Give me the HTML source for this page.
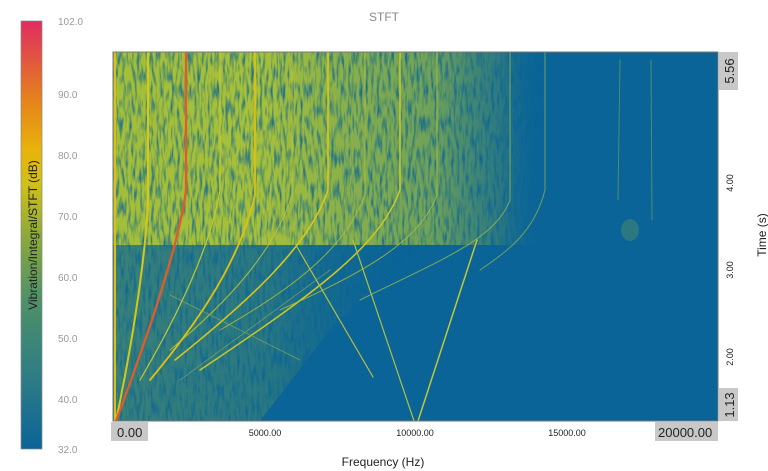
<!DOCTYPE html>
<html><head><style>
html,body{margin:0;padding:0;background:#fff;width:768px;height:471px;overflow:hidden}
text{font-family:"Liberation Sans",sans-serif}
</style></head><body>
<svg width="768" height="471" viewBox="0 0 768 471" xmlns="http://www.w3.org/2000/svg">
<defs>
<linearGradient id="cb" x1="0" y1="1" x2="0" y2="0">
<stop offset="0" stop-color="#0a6497"/>
<stop offset="0.15" stop-color="#2b7a88"/>
<stop offset="0.35" stop-color="#4f9168"/>
<stop offset="0.5" stop-color="#8caa3a"/>
<stop offset="0.62" stop-color="#d2c018"/>
<stop offset="0.7" stop-color="#e8b30a"/>
<stop offset="0.82" stop-color="#e5801e"/>
<stop offset="1" stop-color="#e02c60"/>
</linearGradient>
<linearGradient id="gx" x1="0" y1="0" x2="1" y2="0">
<stop offset="0" stop-color="#b4c830" stop-opacity="0.9"/>
<stop offset="0.35" stop-color="#b8ca30" stop-opacity="0.9"/>
<stop offset="0.55" stop-color="#a8c238" stop-opacity="0.8"/>
<stop offset="0.75" stop-color="#98ba40" stop-opacity="0.7"/>
<stop offset="0.9" stop-color="#6aa058" stop-opacity="0.35"/>
<stop offset="1" stop-color="#0a6497" stop-opacity="0"/>
</linearGradient>
<linearGradient id="gl" x1="0" y1="0" x2="1" y2="0">
<stop offset="0" stop-color="#80ac4a" stop-opacity="0.4"/>
<stop offset="0.5" stop-color="#70a450" stop-opacity="0.3"/>
<stop offset="1" stop-color="#0a6497" stop-opacity="0"/>
</linearGradient>
<filter id="nz" x="0" y="0" width="1" height="1" color-interpolation-filters="sRGB">
<feTurbulence type="fractalNoise" baseFrequency="0.35 0.06" numOctaves="2" seed="3"/>
<feColorMatrix values="0 0 0 0 0.04  0 0 0 0 0.39  0 0 0 0 0.59  0 0 0 2.6 -1.15"/>
</filter>
<clipPath id="pc"><rect x="113" y="52" width="605" height="369"/></clipPath>
<clipPath id="gc"><rect x="113" y="52" width="432" height="195"/><polygon points="113,245 420,245 330,330 260,421 113,421"/></clipPath>
</defs>

<text x="384" y="21" font-size="12" fill="#888" text-anchor="middle">STFT</text>

<rect x="21" y="21" width="21" height="428" fill="url(#cb)" stroke="#888" stroke-width="0.7"/>
<g font-size="10" fill="#999">
<text x="58" y="25">102.0</text>
<text x="58" y="98">90.0</text>
<text x="58" y="159">80.0</text>
<text x="58" y="220">70.0</text>
<text x="58" y="281">60.0</text>
<text x="58" y="342">50.0</text>
<text x="58" y="403">40.0</text>
<text x="58" y="453">32.0</text>
</g>
<text transform="translate(37,235) rotate(-90)" font-size="12" fill="#222" text-anchor="middle">Vibration/Integral/STFT (dB)</text>

<g clip-path="url(#pc)">
<rect x="113" y="52" width="605" height="369" fill="#0a6497"/>
<rect x="113" y="52" width="430" height="193" fill="url(#gx)"/>
<polygon points="113,245 420,245 330,330 260,421 113,421" fill="url(#gl)"/>
<g clip-path="url(#gc)"><rect x="113" y="52" width="605" height="369" filter="url(#nz)" opacity="0.85"/></g>
<g fill="none" stroke-linecap="round">
<path d="M115,52 L115,421" stroke="#d8c018" stroke-width="2"/>
<path d="M148,52 L148,200 C146,250 135,330 116,421" stroke="#d4c81a" stroke-width="2"/>
<path d="M186,52 L186,190 C180,240 150,330 116,421" stroke="#e45a28" stroke-width="2.3"/>
<path d="M220,52 L220,190 C210,250 175,320 140,380" stroke="#c8c828" stroke-width="1.2"/>
<path d="M255,52 L255,195 C240,260 200,320 150,380" stroke="#e0c010" stroke-width="1.8"/>
<path d="M292,52 L292,195 C275,250 230,300 170,350" stroke="#c8c82a" stroke-width="1.1" opacity="0.8"/>
<path d="M328,52 L328,190 C310,245 250,300 175,360" stroke="#d8c818" stroke-width="1.6"/>
<path d="M365,52 L365,195 C345,250 290,290 220,330" stroke="#b8c030" stroke-width="1" opacity="0.8"/>
<path d="M400,52 L400,190 C380,245 320,290 200,370" stroke="#d0c820" stroke-width="1.5"/>
<path d="M437,52 L437,195 C420,240 370,270 280,310" stroke="#b0c038" stroke-width="1" opacity="0.8"/>
<path d="M510,52 L510,200 C495,240 440,260 360,300" stroke="#9cb848" stroke-width="1" opacity="0.8"/>
<path d="M545,52 L545,190 C535,230 510,250 480,270" stroke="#8ab050" stroke-width="1" opacity="0.8"/>
<path d="M620,60 L618,200" stroke="#6aa060" stroke-width="1" opacity="0.7"/>
<path d="M651,60 L652,220" stroke="#6aa060" stroke-width="1" opacity="0.7"/>
<path d="M297,247 L373,377" stroke="#b8c040" stroke-width="1.2"/>
<path d="M353,240 L414,421" stroke="#b0c040" stroke-width="1.2"/>
<path d="M477,240 L418,421" stroke="#c0c838" stroke-width="1.5"/>
<path d="M170,295 L300,360" stroke="#90b050" stroke-width="1" opacity="0.6"/>
<path d="M180,380 L330,270" stroke="#90b050" stroke-width="1" opacity="0.6"/>
</g>
<ellipse cx="630" cy="230" rx="9" ry="11" fill="#7aa850" opacity="0.3"/>
</g>
<rect x="113" y="52" width="605" height="369" fill="none" stroke="#777" stroke-width="1"/>

<rect x="111" y="422" width="37" height="19" fill="#c8c8c8"/>
<text x="117" y="437" font-size="13" fill="#222">0.00</text>
<rect x="655" y="422" width="63" height="19" fill="#c8c8c8"/>
<text x="658" y="437" font-size="13" fill="#222">20000.00</text>
<g font-size="9" fill="#222" text-anchor="middle">
<text x="265" y="436">5000.00</text>
<text x="415" y="436">10000.00</text>
<text x="567" y="436">15000.00</text>
</g>
<text x="383" y="466" font-size="12" fill="#222" text-anchor="middle">Frequency (Hz)</text>

<rect x="719" y="52" width="19" height="38" fill="#c8c8c8"/>
<text transform="translate(734,71) rotate(-90)" font-size="13" fill="#222" text-anchor="middle">5.56</text>
<rect x="719" y="388" width="19" height="33" fill="#c8c8c8"/>
<text transform="translate(734,405) rotate(-90)" font-size="13" fill="#222" text-anchor="middle">1.13</text>
<g font-size="9" fill="#222" text-anchor="middle">
<text transform="translate(733,183) rotate(-90)">4.00</text>
<text transform="translate(733,270) rotate(-90)">3.00</text>
<text transform="translate(733,357) rotate(-90)">2.00</text>
</g>
<text transform="translate(766,235) rotate(-90)" font-size="12" fill="#222" text-anchor="middle">Time (s)</text>
</svg>
</body></html>
